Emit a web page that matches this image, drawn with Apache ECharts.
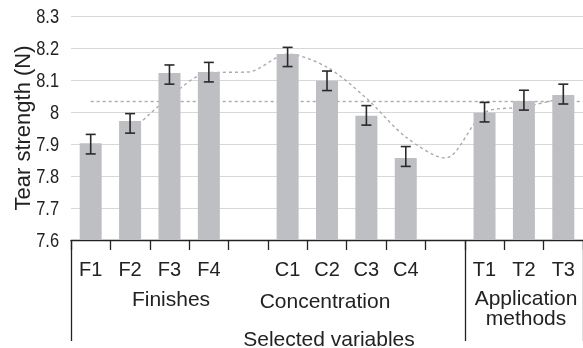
<!DOCTYPE html>
<html>
<head>
<meta charset="utf-8">
<script src="https://cdn.jsdelivr.net/npm/echarts@6/dist/echarts.min.js"></script>
<style>
html,body{margin:0;padding:0;background:#fff;}
#c{width:583px;height:348px;}
</style>
</head>
<body>
<div id="c"></div>
<script>
// ---- data ----
var categories = ['F1', 'F2', 'F3', 'F4', '', 'C1', 'C2', 'C3', 'C4', '', 'T1', 'T2', 'T3'];
var tearStrength = [7.902, 7.972, 8.122, 8.125, null, 8.181, 8.098, 7.988, 7.856, null, 7.998, 8.034, 8.053];
var errLow  = [7.869, 7.934, 8.087, 8.094, null, 8.142, 8.067, 7.959, 7.830, null, 7.969, 8.006, 8.025];
var errHigh = [7.930, 7.995, 8.147, 8.155, null, 8.202, 8.128, 8.020, 7.892, null, 8.030, 8.068, 8.087];
var trendLine = [null, 7.936, 8.047, 8.123, 8.125, 8.181, 8.140, 8.043, 7.922, 7.856, 7.998, 8.016, 8.044];
var meanValue = 8.033;
var yTickValues = [7.6, 7.7, 7.8, 7.9, 8.0, 8.1, 8.2, 8.3];
var yTickLabels = ['7.6', '7.7', '7.8', '7.9', '8', '8.1', '8.2', '8.3'];
var groupLabels = ['Finishes', 'Concentration', 'Application\nmethods', 'Selected variables'];
var yAxisTitle = 'Tear strength (N)';

var FONT = "'Liberation Sans', Arial, sans-serif";

var errData = [];
for (var i = 0; i < categories.length; i++) {
  if (errLow[i] != null) errData.push([i, errLow[i], errHigh[i]]);
}

var groupGraphics = [
  { type: 'text', x: 171, y: 300, style: { text: groupLabels[0], fontSize: 21, fontFamily: FONT, fill: '#222', align: 'center', verticalAlign: 'middle' } },
  { type: 'text', x: 325, y: 302, style: { text: groupLabels[1], fontSize: 21, fontFamily: FONT, fill: '#222', align: 'center', verticalAlign: 'middle' } },
  { type: 'text', x: 526, y: 309, style: { text: groupLabels[2], fontSize: 21, lineHeight: 20, fontFamily: FONT, fill: '#222', align: 'center', verticalAlign: 'middle' } },
  { type: 'text', x: 329, y: 340, style: { text: groupLabels[3], fontSize: 21, fontFamily: FONT, fill: '#222', align: 'center', verticalAlign: 'middle' } }
];

var chart = echarts.init(document.getElementById('c'), null, { renderer: 'canvas' });
chart.setOption({
  animation: false,
  backgroundColor: '#ffffff',
  grid: { left: 71, top: 16, width: 518, height: 224, containLabel: false },
  xAxis: [{
    type: 'category',
    data: categories,
    position: 'bottom',
    boundaryGap: true,
    axisLine: { show: true, lineStyle: { color: '#222', width: 1.3 } },
    axisTick: { show: true, length: 10, alignWithLabel: false, interval: 0, lineStyle: { color: '#222', width: 1.3 } },
    axisLabel: { show: true, interval: 0, margin: 20, fontSize: 20, fontFamily: FONT, color: '#222' },
    splitLine: { show: false }
  }, {
    type: 'category',
    data: categories,
    position: 'bottom',
    boundaryGap: true,
    axisLine: { show: false },
    axisTick: { show: true, length: 101, alignWithLabel: false,
      interval: function (idx) { return idx === 0 || idx === 10; },
      lineStyle: { color: '#222', width: 1.3 } },
    axisLabel: { show: false },
    splitLine: { show: false }
  }],
  yAxis: {
    type: 'value',
    min: yTickValues[0], max: yTickValues[yTickValues.length - 1], interval: 0.1,
    name: yAxisTitle,
    nameLocation: 'middle',
    nameGap: 36,
    nameRotate: 90,
    nameTextStyle: { fontSize: 22, fontFamily: FONT, color: '#222' },
    axisLine: { show: false },
    axisTick: { show: false },
    axisLabel: { show: false },
    splitLine: { show: true, lineStyle: { color: '#d8d8d8', width: 1.2 } }
  },
  series: [{
    type: 'line',
    data: trendLine,
    smooth: 0.3,
    symbol: 'none',
    z: 1,
    connectNulls: false,
    lineStyle: { color: '#aaaaaa', width: 1.4, type: [3, 3] },
    markLine: {
      z: 1,
      silent: true,
      symbol: ['none', 'none'],
      label: { show: false },
      lineStyle: { color: '#aaaaaa', width: 1.4, type: [3, 3] },
      data: [[{ coord: ['F1', meanValue] }, { coord: ['T3', meanValue] }]]
    }
  }, {
    type: 'bar',
    data: tearStrength,
    barWidth: 22,
    z: 2,
    itemStyle: { color: '#bebfc3' }
  }, {
    type: 'custom',
    z: 3,
    data: errData,
    renderItem: function (params, api) {
      var x = api.value(0);
      var lo = api.coord([x, api.value(1)]);
      var hi = api.coord([x, api.value(2)]);
      var hw = 5;
      var st = { stroke: '#2a2a2a', lineWidth: 1.6, fill: null };
      return {
        type: 'group',
        children: [
          { type: 'line', shape: { x1: lo[0], y1: lo[1], x2: hi[0], y2: hi[1] }, style: st },
          { type: 'line', shape: { x1: lo[0] - hw, y1: lo[1], x2: lo[0] + hw, y2: lo[1] }, style: st },
          { type: 'line', shape: { x1: hi[0] - hw, y1: hi[1], x2: hi[0] + hw, y2: hi[1] }, style: st }
        ]
      };
    }
  }],
  graphic: groupGraphics
});

// condensed y-axis tick labels, positioned through the y scale
var yLabelGraphics = yTickValues.map(function (v, k) {
  var p = chart.convertToPixel({ yAxisIndex: 0 }, v);
  return { type: 'text', x: 59, y: p + 1, scaleX: 0.82,
    style: { text: yTickLabels[k], fontSize: 20, fontFamily: FONT, fill: '#222', align: 'right', verticalAlign: 'middle' } };
});
// extend mean line to the right edge of the picture
var pMean = chart.convertToPixel({ xAxisIndex: 0, yAxisIndex: 0 }, ['F1', meanValue]);
chart.setOption({
  graphic: groupGraphics.concat(yLabelGraphics),
  series: [{
    markLine: { data: [[{ x: pMean[0], y: pMean[1] }, { x: chart.getWidth(), y: pMean[1] }]] }
  }]
});
</script>
</body>
</html>
